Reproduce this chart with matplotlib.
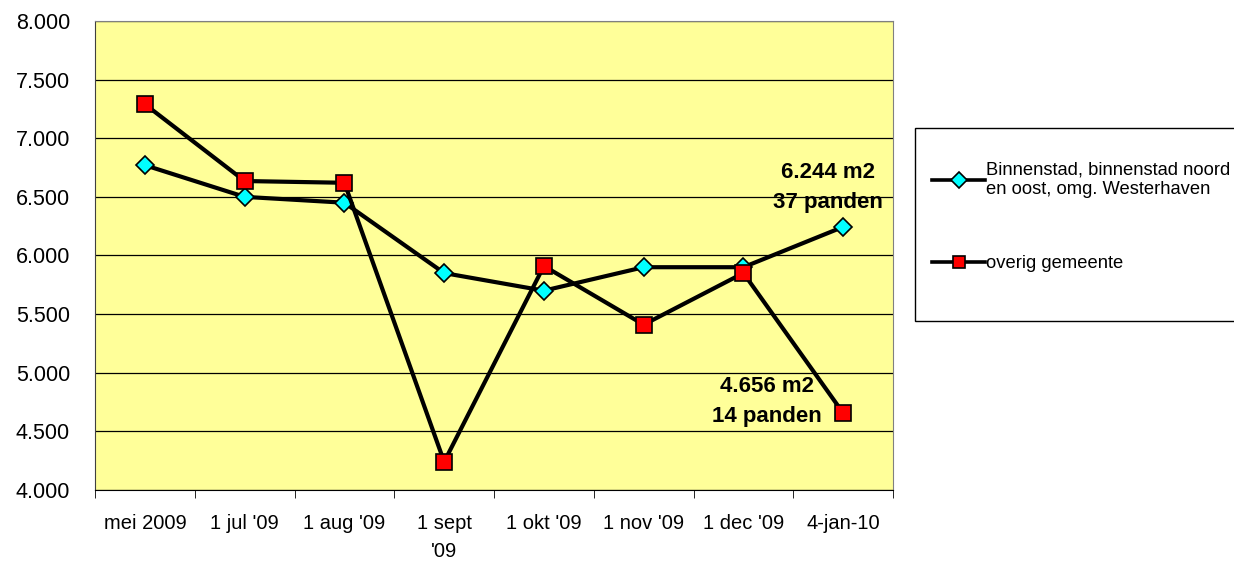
import matplotlib
matplotlib.use("Agg")
import matplotlib.pyplot as plt
from matplotlib.patches import Rectangle

plt.rcParams["font.family"] = ["Liberation Sans", "DejaVu Sans"]

# data
categories = ["mei 2009", "1 jul '09", "1 aug '09", "1 sept\n'09", "1 okt '09",
              "1 nov '09", "1 dec '09", "4-jan-10"]
binnenstad = [6770, 6500, 6450, 5850, 5700, 5900, 5900, 6244]
overig = [7290, 6635, 6620, 4240, 5910, 5410, 5850, 4656]
label_binnen = "Binnenstad, binnenstad noord\nen oost, omg. Westerhaven"
label_overig = "overig gemeente"
y_ticks = [4000, 4500, 5000, 5500, 6000, 6500, 7000, 7500, 8000]
y_labels = ["4.000", "4.500", "5.000", "5.500", "6.000", "6.500", "7.000", "7.500", "8.000"]

fig = plt.figure(figsize=(12.34, 5.61), dpi=100)
ax = fig.add_axes([0.077, 0.1266, 0.6467, 0.836])
ax.set_facecolor("#FFFF99")

x = list(range(len(categories)))
l1, = ax.plot(x, binnenstad, color="black", linewidth=3.0, marker="D",
              markersize=9, markerfacecolor="#00FFFF", markeredgecolor="black",
              markeredgewidth=1.2, label=label_binnen, zorder=3)
l2, = ax.plot(x, overig, color="black", linewidth=3.0, marker="s",
              markersize=11, markerfacecolor="#FF0000", markeredgecolor="black",
              markeredgewidth=1.2, label=label_overig, zorder=3)

ax.set_ylim(4000, 8000)
ax.set_xlim(-0.5, len(categories) - 0.5)
ax.set_yticks(y_ticks)
ax.set_yticklabels(y_labels, fontsize=15.5)
ax.tick_params(axis="y", length=0, pad=18)
ax.grid(axis="y", color="black", linewidth=0.9)
ax.set_axisbelow(True)

ax.set_xticks(x)
ax.set_xticklabels(categories, fontsize=14.5, linespacing=1.6)
ax.set_xticks([i - 0.5 for i in range(len(categories) + 1)], minor=True)
ax.tick_params(axis="x", which="major", length=0, pad=17)
ax.tick_params(axis="x", which="minor", length=6, direction="out", color="black")

for side in ["top", "right"]:
    ax.spines[side].set_color("#808080")
ax.spines["left"].set_color("#404040")
ax.spines["bottom"].set_color("black")

# annotations
ax.text(6.85, binnenstad[-1] + 460, "6.244 m2", fontsize=16, fontweight="bold",
        ha="center", va="center")
ax.text(6.85, binnenstad[-1] + 205, "37 panden", fontsize=16, fontweight="bold",
        ha="center", va="center")
ax.text(6.24, overig[-1] + 225, "4.656 m2", fontsize=16, fontweight="bold",
        ha="center", va="center")
ax.text(6.24, overig[-1] - 30, "14 panden", fontsize=16, fontweight="bold",
        ha="center", va="center")

# legend box
fig.patches.append(Rectangle((0.7415, 0.428), 0.3, 0.343, transform=fig.transFigure,
                             facecolor="white", edgecolor="black", linewidth=1.0))
leg = fig.legend(handles=[l1, l2], loc="upper left", bbox_to_anchor=(0.7495, 0.7245),
                 frameon=False, fontsize=13.2, handlelength=2.9, handletextpad=0.05,
                 labelspacing=3.1, borderaxespad=0)
for h in leg.legend_handles:
    h.set_markersize(8)
    h.set_linewidth(2.6)

fig.savefig("out.png", dpi=100)
